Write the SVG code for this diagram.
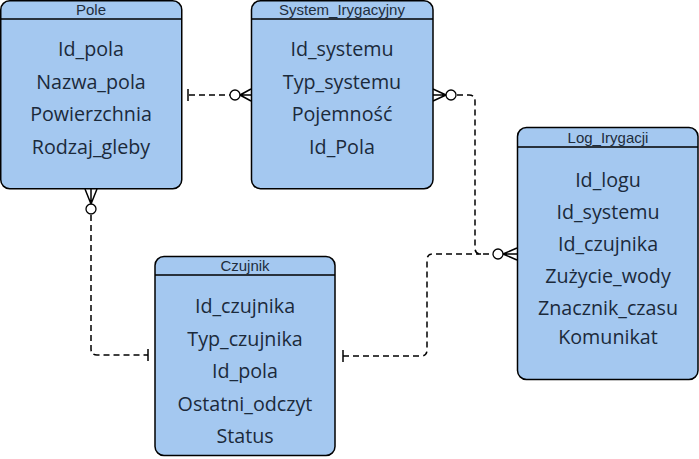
<svg xmlns="http://www.w3.org/2000/svg" width="699" height="459" viewBox="0 0 699 459">
<style>
.box{fill:#a4c8f0;stroke:#000;stroke-width:1.5}
.hl{stroke:#000;stroke-width:1.3}
.ht{font-family:"Liberation Sans",Arial,sans-serif;font-size:15px;fill:#1e2d3d;text-anchor:middle}
.at{font-family:"Open Sans",sans-serif;font-size:19.7px;fill:#1b2a3b;text-anchor:middle}
.c{fill:none;stroke:#000;stroke-width:1.5;stroke-dasharray:6,4}
.m{fill:none;stroke:#000;stroke-width:1.5}
.o{fill:#fff;stroke:#000;stroke-width:1.3}
</style>
<g id="connectors">
<path class="c" d="M189,95 H230"/>
<path class="c" d="M457,95 H469 Q475,95 475,101 V248 Q475,254 481,254 H493"/>
<path class="c" d="M343,356 H421 Q427,356 427,350 V260 Q427,254 433,254 H481"/>
<path class="c" d="M91,215 V349 Q91,355 97,355 H148"/>
<path class="m" d="M188,89 V101"/>
<circle class="o" cx="235" cy="95" r="5"/>
<path class="m" d="M240,95 L251,89 M240,95 L251,101 M240,95 H251"/>
<circle class="o" cx="451" cy="95" r="5"/>
<path class="m" d="M446,95 L433,89 M446,95 L433,101 M446,95 H433"/>
<circle class="o" cx="498" cy="254" r="5"/>
<path class="m" d="M503,254 L517,248 M503,254 L517,260 M503,254 H517"/>
<circle class="o" cx="91" cy="209" r="5"/>
<path class="m" d="M91,204 L85,189 M91,204 L97,189 M91,204 V189"/>
<path class="m" d="M148,349 V361"/>
<path class="m" d="M343,350 V362"/>
</g>
<g id="pole">
<rect class="box" x="0.75" y="0.75" width="181" height="188" rx="9"/>
<line class="hl" x1="0.75" y1="19" x2="181.75" y2="19"/>
<text class="ht" x="91" y="15">Pole</text>
<text class="at" x="91" y="56">Id_pola</text>
<text class="at" x="91" y="89">Nazwa_pola</text>
<text class="at" x="91" y="121">Powierzchnia</text>
<text class="at" x="91" y="154">Rodzaj_gleby</text>
</g>
<g id="system">
<rect class="box" x="251.5" y="0.75" width="181.5" height="188" rx="9"/>
<line class="hl" x1="251.5" y1="19" x2="433" y2="19"/>
<text class="ht" x="342" y="15">System_Irygacyjny</text>
<text class="at" x="342" y="56">Id_systemu</text>
<text class="at" x="342" y="89">Typ_systemu</text>
<text class="at" x="342" y="121">Pojemność</text>
<text class="at" x="342" y="154">Id_Pola</text>
</g>
<g id="log">
<rect class="box" x="517.5" y="127.5" width="180.5" height="252" rx="9"/>
<line class="hl" x1="517.5" y1="147" x2="698" y2="147"/>
<text class="ht" x="608" y="143">Log_Irygacji</text>
<text class="at" x="608" y="187">Id_logu</text>
<text class="at" x="608" y="219">Id_systemu</text>
<text class="at" x="608" y="251">Id_czujnika</text>
<text class="at" x="608" y="283">Zużycie_wody</text>
<text class="at" x="608" y="315">Znacznik_czasu</text>
<text class="at" x="608" y="344">Komunikat</text>
</g>
<g id="czujnik">
<rect class="box" x="155" y="256.5" width="180" height="199" rx="9"/>
<line class="hl" x1="155" y1="275" x2="335" y2="275"/>
<text class="ht" x="245" y="271">Czujnik</text>
<text class="at" x="245" y="313">Id_czujnika</text>
<text class="at" x="245" y="346">Typ_czujnika</text>
<text class="at" x="245" y="378">Id_pola</text>
<text class="at" x="245" y="411">Ostatni_odczyt</text>
<text class="at" x="245" y="443">Status</text>
</g>
</svg>
